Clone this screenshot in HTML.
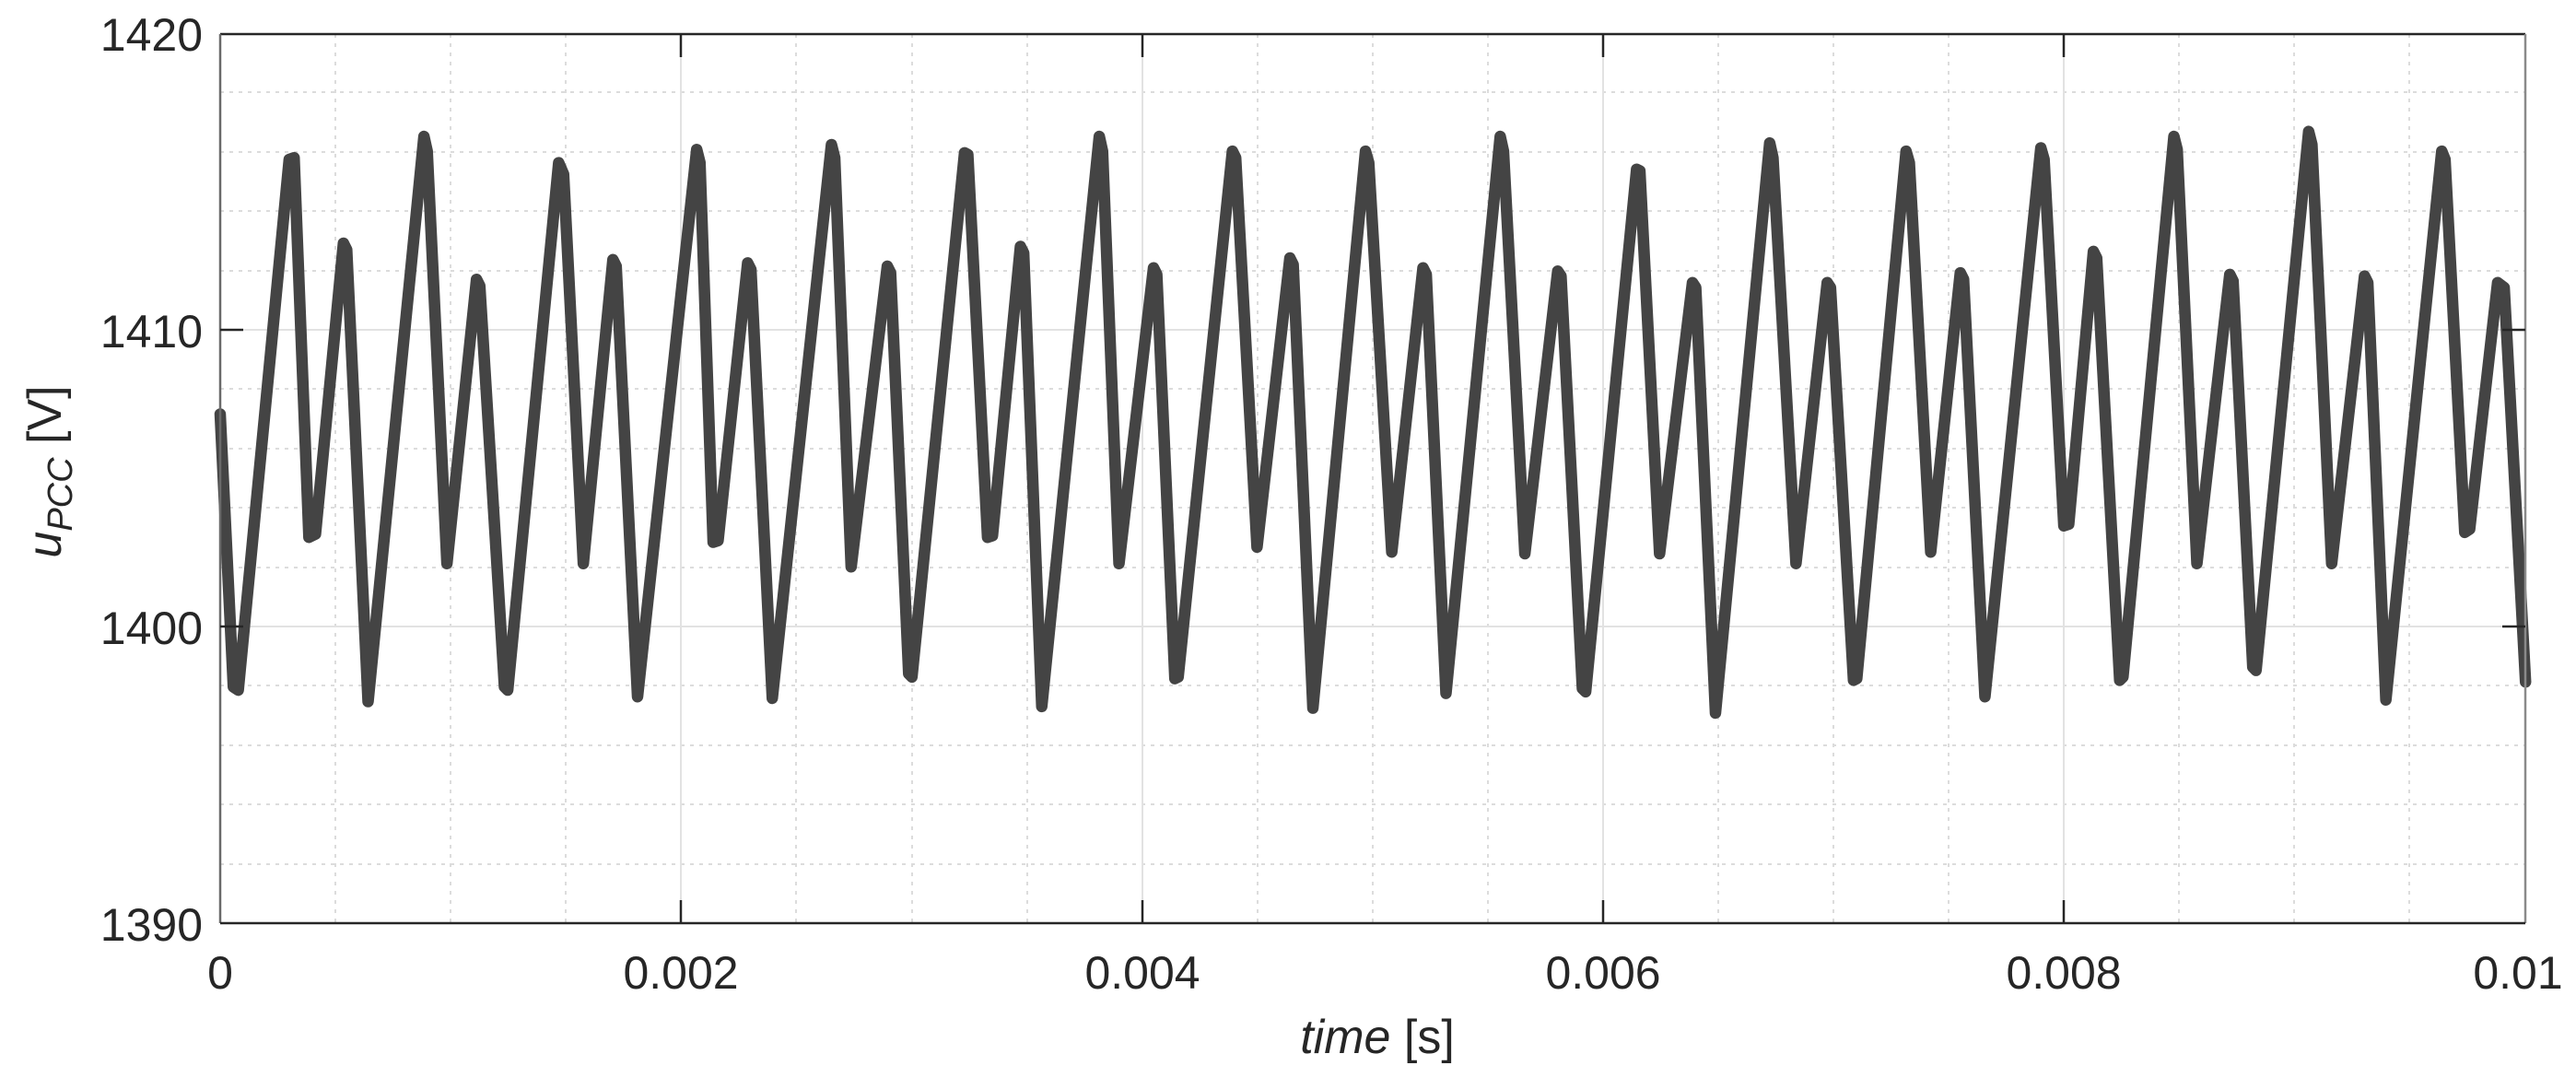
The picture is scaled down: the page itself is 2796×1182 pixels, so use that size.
<!DOCTYPE html>
<html><head><meta charset="utf-8"><style>
html,body{margin:0;padding:0;background:#fff;}
svg{display:block;}
text{font-family:"Liberation Sans",sans-serif;fill:#262626;}
</style></head><body>
<svg width="2796" height="1182" viewBox="0 0 2796 1182" xmlns="http://www.w3.org/2000/svg">
<rect x="0" y="0" width="2796" height="1182" fill="#fff"/>
<g stroke="#dcdcdc" stroke-width="2" stroke-dasharray="4,6">
<line x1="364" y1="37" x2="364" y2="1002"/><line x1="489" y1="37" x2="489" y2="1002"/><line x1="614" y1="37" x2="614" y2="1002"/>
<line x1="864" y1="37" x2="864" y2="1002"/><line x1="990" y1="37" x2="990" y2="1002"/><line x1="1115" y1="37" x2="1115" y2="1002"/>
<line x1="1365" y1="37" x2="1365" y2="1002"/><line x1="1490" y1="37" x2="1490" y2="1002"/><line x1="1615" y1="37" x2="1615" y2="1002"/>
<line x1="1865" y1="37" x2="1865" y2="1002"/><line x1="1990" y1="37" x2="1990" y2="1002"/><line x1="2115" y1="37" x2="2115" y2="1002"/>
<line x1="2365" y1="37" x2="2365" y2="1002"/><line x1="2490" y1="37" x2="2490" y2="1002"/><line x1="2615" y1="37" x2="2615" y2="1002"/>
<line x1="239" y1="100" x2="2741" y2="100"/><line x1="239" y1="165" x2="2741" y2="165"/><line x1="239" y1="229" x2="2741" y2="229"/><line x1="239" y1="294" x2="2741" y2="294"/>
<line x1="239" y1="422" x2="2741" y2="422"/><line x1="239" y1="487" x2="2741" y2="487"/><line x1="239" y1="551" x2="2741" y2="551"/><line x1="239" y1="616" x2="2741" y2="616"/>
<line x1="239" y1="744" x2="2741" y2="744"/><line x1="239" y1="809" x2="2741" y2="809"/><line x1="239" y1="873" x2="2741" y2="873"/><line x1="239" y1="938" x2="2741" y2="938"/>
</g>
<g stroke="#e2e2e2" stroke-width="2">
<line x1="739" y1="37" x2="739" y2="1002"/><line x1="1240" y1="37" x2="1240" y2="1002"/><line x1="1740" y1="37" x2="1740" y2="1002"/><line x1="2240" y1="37" x2="2240" y2="1002"/>
<line x1="239" y1="358" x2="2741" y2="358"/><line x1="239" y1="680" x2="2741" y2="680"/>
</g>
<g transform="scale(1.7835)">
<polyline fill="none" stroke="#444" stroke-width="7" stroke-linejoin="round" stroke-linecap="round" points="
134,252 142,418 145,420 176,97 179,96 188,327 192,325 209,148 211,152 224,427 258,83 260,92 272,343 290,170 292,174 307,418 309,420 340,99 343,106 355,343 373,158 375,162 388,424 424,91 426,99 434,330 437,329 455,160 457,164 470,425 506,88 508,96 518,345 540,162 542,166 553,410 555,412 587,93 589,94 601,327 604,326 621,150 623,154 634,430 669,83 671,92 681,343 702,163 704,167 715,413 717,412 750,92 752,96 765,333 785,157 787,161 799,431 831,92 833,99 847,336 866,163 868,167 880,422 913,83 915,92 928,337 948,165 950,168 963,419 965,421 996,103 998,104 1010,337 1030,172 1032,175 1044,434 1077,87 1079,96 1093,343 1112,172 1114,175 1128,414 1130,413 1160,92 1162,99 1175,336 1193,166 1195,170 1208,424 1242,90 1244,97 1256,320 1259,319 1274,153 1276,157 1290,414 1292,412 1323,83 1325,91 1337,343 1357,167 1359,171 1371,406 1373,408 1405,80 1407,88 1419,343 1439,168 1441,172 1452,426 1486,92 1488,97 1500,324 1503,322 1520,172 1524,175 1537,415"/>
</g>
<line x1="239" y1="37" x2="2741" y2="37" stroke="#262626" stroke-width="2.5"/>
<line x1="2741" y1="37" x2="2741" y2="1002" stroke="#8a8a8a" stroke-width="2.5"/>
<line x1="239" y1="37" x2="239" y2="1002" stroke="#6a6a6a" stroke-width="2.5"/>
<line x1="239" y1="1002" x2="2741" y2="1002" stroke="#262626" stroke-width="2.5"/>
<g stroke="#262626" stroke-width="2.5">
<line x1="739" y1="1002" x2="739" y2="977"/><line x1="1240" y1="1002" x2="1240" y2="977"/><line x1="1740" y1="1002" x2="1740" y2="977"/><line x1="2240" y1="1002" x2="2240" y2="977"/>
<line x1="739" y1="37" x2="739" y2="62"/><line x1="1240" y1="37" x2="1240" y2="62"/><line x1="1740" y1="37" x2="1740" y2="62"/><line x1="2240" y1="37" x2="2240" y2="62"/>
<line x1="239" y1="358" x2="264" y2="358"/><line x1="239" y1="680" x2="264" y2="680"/>
<line x1="2741" y1="358" x2="2716" y2="358"/><line x1="2741" y1="680" x2="2716" y2="680"/>
</g>
<g font-size="50" text-anchor="end">
<text x="220" y="55">1420</text>
<text x="220" y="377">1410</text>
<text x="220" y="699">1400</text>
<text x="220" y="1021">1390</text>
</g>
<g font-size="50" text-anchor="middle">
<text x="239" y="1073">0</text>
<text x="739" y="1073">0.002</text>
<text x="1240" y="1073">0.004</text>
<text x="1740" y="1073">0.006</text>
<text x="2240" y="1073">0.008</text>
<text x="2733" y="1073">0.01</text>
</g>
<text x="1495" y="1143" font-size="52" text-anchor="middle"><tspan font-style="italic">time</tspan> [s]</text>
<text transform="translate(66,512) rotate(-90)" font-size="52" text-anchor="middle"><tspan font-style="italic">u</tspan><tspan font-style="italic" font-size="38" dy="12">PCC</tspan><tspan dy="-12"> [V]</tspan></text>
</svg>
</body></html>
